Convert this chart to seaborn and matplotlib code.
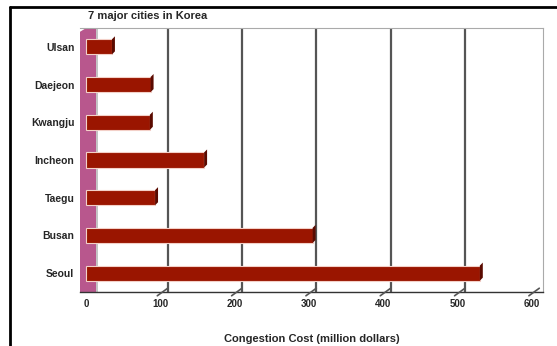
import matplotlib
matplotlib.use("Agg")
import matplotlib.pyplot as plt
import seaborn as sns
import pandas as pd
from matplotlib.patches import Polygon, Rectangle
from matplotlib.lines import Line2D

# data
cities = ["Ulsan", "Daejeon", "Kwangju", "Incheon", "Taegu", "Busan", "Seoul"]
cost = [35, 87, 86, 159, 93, 305, 530]
ticks = [0, 100, 200, 300, 400, 500, 600]

df = pd.DataFrame({"city": cities, "cost": cost})

sns.set_style("white")
plt.rcParams["font.family"] = ["Liberation Sans", "DejaVu Sans"]

fig = plt.figure(figsize=(5.57, 3.46), dpi=100)
W, H = 557, 346
ax = fig.add_axes([80 / W, 1 - 292 / H, (543 - 80) / W, (292 - 28) / H])

ax.set_xlim(-8, 615)
ax.set_ylim(6.62, -0.66)

# back wall gridlines
for t in ticks[1:-1]:
    ax.axvline(t + 10, color="#555555", lw=1.6, zorder=0)

# pink left wall (slanted top)
ax.add_patch(Polygon([[-8, 6.62], [-8, -0.4], [14, -0.66], [14, 6.62]],
                     closed=True, facecolor="#b8578d", edgecolor="none",
                     zorder=1))
ax.add_patch(Rectangle((14, -0.66), 2.5, 7.28, facecolor="#c4c4c4",
                       edgecolor="none", zorder=1))

sns.barplot(data=df, x="cost", y="city", orient="h", color="#9a1500",
            width=0.4, saturation=1, edgecolor="#f3d0c8", linewidth=0.8,
            ax=ax, zorder=3)

# 3d end caps on the bars
for p in ax.containers[0]:
    x1 = p.get_x() + p.get_width()
    y0 = p.get_y()
    h = p.get_height()
    ax.add_patch(Polygon([[x1, y0 + h], [x1, y0], [x1 + 4, y0 - 0.08],
                          [x1 + 4, y0 + h - 0.08]], closed=True,
                         facecolor="#5a0a00", edgecolor="none", zorder=4))

# floor
ax.add_line(Line2D([-8, 615], [6.5, 6.5], color="#aaaaaa", lw=0.8, zorder=2))
for t in ticks[1:]:
    ax.plot([t - 4, t + 10], [6.6, 6.4], color="#555555", lw=1.2, zorder=5,
            clip_on=False)

for s in ["top", "right"]:
    ax.spines[s].set_color("#aaaaaa")
    ax.spines[s].set_linewidth(0.8)
ax.spines["left"].set_visible(False)
ax.spines["bottom"].set_color("#333333")
ax.spines["bottom"].set_linewidth(1.0)

ax.set_xticks(ticks)
ax.set_xticklabels([str(t) for t in ticks], fontsize=7, fontweight="bold")
ax.tick_params(axis="x", length=0, pad=5)
ax.tick_params(axis="y", length=0, pad=4, labelsize=7.5)
for lbl in ax.get_yticklabels():
    lbl.set_fontweight("bold")
ax.set_ylabel("")
ax.set_xlabel("Congestion Cost (million dollars)", fontsize=8,
              fontweight="bold", labelpad=18)

fig.text(88 / W, 1 - 16 / H, "7 major cities in Korea", fontsize=8,
         fontweight="bold", va="center", ha="left")

# outer frame lines
fig.add_artist(Line2D([10 / W, 1], [1 - 7 / H, 1 - 7 / H], color="black", lw=2))
fig.add_artist(Line2D([10 / W, 10 / W], [0, 1 - 7 / H], color="black", lw=2))

fig.savefig("out.png", dpi=100)
